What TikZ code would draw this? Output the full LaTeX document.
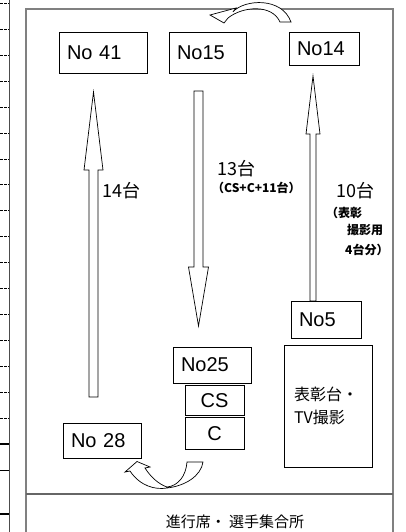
\documentclass[tikz,border=0pt]{standalone}
\usepackage{fontspec}
\setmainfont{Liberation Sans}
\newfontfamily\jp{Noto Sans CJK JP}
\usetikzlibrary{positioning}

% block arrow: x, y tail, y head base, y tip, shaft half width, head half width
\newcommand\blockarrow[6]{%
  \draw[bigarrow] (#1-#5,#2) -- (#1-#5,#3) -- (#1-#6,#3) -- (#1,#4)
    -- (#1+#6,#3) -- (#1+#5,#3) -- (#1+#5,#2) -- cycle;}

\begin{document}
\begin{tikzpicture}[x=1pt,y=-1pt,
    slot/.style={draw=black, line width=0.8pt, inner xsep=8pt, inner ysep=0pt,
      align=left, font=\fontsize{20}{22}\selectfont},
    tag/.style={anchor=west, inner sep=0pt, font=\jp\fontsize{18}{20}\selectfont},
    note/.style={anchor=west, inner sep=0pt, font=\jp\bfseries\fontsize{12}{14}\selectfont},
    bigarrow/.style={draw=black, fill=white, line width=0.7pt, line join=miter}]

\useasboundingbox (0,0) rectangle (405,532);
\clip (0,0) rectangle (405,532);

% left rule with ticks
\draw[black!70, line width=1.3pt] (9.5,0) -- (9.5,532);
\foreach \k in {0,...,16}
  \draw[line width=0.8pt, dash pattern=on 2.5pt off 1.5pt] (0,3.3+25.94*\k) -- (9,3.3+25.94*\k);
\draw[line width=2.5pt] (0,444) -- (9,444);
\draw[line width=0.8pt] (0,470) -- (9,470);
\draw[line width=2.5pt] (0,514) -- (9,514);

% frame
\draw[black!50, line width=1.3pt] (26,540) -- (26,9) -- (393,9) -- (393,540);
\draw[black!60, line width=1.1pt] (26,494) -- (393,494);

% slots
\node[slot, text width=72pt, minimum height=41pt] (no41) at (103,52.5) {No 41};
\node[slot, text width=61pt, minimum height=41pt] (no15) at (207.5,52.5) {No15};
\node[slot, text width=54pt, minimum height=33pt] (no14) at (324,48.5) {No14};
\node[slot, text width=62pt, minimum height=36pt] (no25) at (212,365) {No25};
\node[slot, align=center, minimum width=59pt, minimum height=30pt,
  below=2pt of no25, xshift=2.5pt] (cs) {CS};
\node[slot, align=center, minimum width=59pt, minimum height=32pt,
  below=1pt of cs] (c) {C};
\node[slot, text width=62pt, minimum height=35pt] (no28) at (102,440.5) {No 28};
\node[slot, text width=68pt, inner xsep=10pt, minimum height=122pt,
  font=\jp\fontsize{16}{23}\selectfont] (award) at (328,406) {表彰台・\\TV撮影};

% arrows
\blockarrow{93.5}{397}{170}{92}{4.5}{9.5}
\blockarrow{198.5}{91}{267}{326}{4.5}{10}
\blockarrow{313}{301}{134}{76}{3}{7}
\node[slot, text width=54pt, minimum height=37pt] (no5) at (326,319.5) {No5};

% turn arrows
\draw[bigarrow] (291,22) -- (280,22) .. controls (272,4) and (243,6) .. (228,18)
  -- (224,23) -- (210,15) -- (236,8) -- (233,11.75)
  .. controls (245,-1) and (282,-3) .. (291,22) -- cycle;
\draw[bigarrow] (203,462) -- (187,462) .. controls (186,476) and (178,486) .. (167,487)
  .. controls (158,484) and (150,476) .. (145,468) -- (150,467) -- (137,461.5)
  -- (125,472) -- (130,471) .. controls (140,486) and (155,490) .. (167,488)
  .. controls (185,486) and (201,476) .. (203,462) -- cycle;

% counts
\node[tag] (cnt14) at (102,191) {14台};
\node[tag] (cnt13) at (217,169) {13台};
\node[note] (sub13) at (212,188) {（CS+C+11台）};
\node[tag] (cnt10) at (336,191) {10台};
\node[note] (sub10a) at (326,213) {（表彰};
\node[note] (sub10b) at (347,230) {撮影用};
\node[note] (sub10c) at (345,250) {4台分）};

% desk
\node[font=\jp\fontsize{15}{17}\selectfont, inner sep=0pt] (desk) at (235,522) {進行席・ 選手集合所};
\end{tikzpicture}
\end{document}
